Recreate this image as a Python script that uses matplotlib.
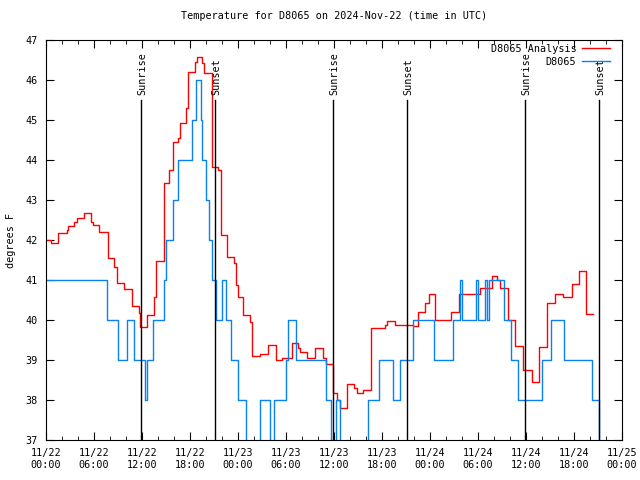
import matplotlib
matplotlib.use("Agg")
import matplotlib.pyplot as plt
from matplotlib.ticker import MultipleLocator

plt.rcParams['font.family'] = ['DejaVu Sans Mono']
plt.rcParams['font.size'] = 7.3

# hours since 2024-11-22 00:00 UTC
analysis_h = [0.0, 0.6, 1.5, 2.6, 2.75, 3.5, 3.9, 4.75, 5.6, 5.9, 6.6, 7.75, 8.5, 8.9,
              9.75, 10.75, 11.6, 11.75, 12.6, 13.5, 13.75, 14.75, 15.4, 15.9, 16.5,
              16.75, 17.5, 17.75, 18.6, 18.9, 19.5, 19.75, 20.75, 21.5, 21.9, 22.6,
              23.5, 23.75, 24.0, 24.6, 25.5, 25.75, 26.75, 27.75, 28.75, 29.5, 30.75,
              31.5, 31.75, 32.6, 33.6, 34.6, 35.0, 35.9, 36.4, 36.75, 37.6, 38.5, 38.9,
              39.6, 40.6, 42.4, 42.6, 43.6, 45.9, 46.5, 47.4, 47.9, 48.6, 50.6, 51.6,
              54.25, 55.75, 56.4, 56.75, 57.75, 58.6, 59.6, 60.75, 61.6, 62.6, 63.6,
              64.6, 65.75, 66.6, 67.5, 68.4]
analysis_t = [42.0, 41.92, 42.17, 42.25, 42.35, 42.46, 42.56, 42.67, 42.46, 42.38, 42.19,
              41.54, 41.33, 40.92, 40.77, 40.35, 40.17, 39.83, 40.12, 40.58, 41.47, 43.42,
              43.75, 44.44, 44.54, 44.92, 45.29, 46.21, 46.46, 46.57, 46.42, 46.17, 43.83,
              43.75, 42.12, 41.58, 41.42, 40.88, 40.58, 40.12, 39.95, 39.1, 39.15, 39.38,
              39.0, 39.05, 39.43, 39.3, 39.2, 39.05, 39.29, 39.05, 38.9, 38.17, 38.0, 37.8,
              38.4, 38.3, 38.17, 38.25, 39.79, 39.88, 39.98, 39.88, 39.86, 40.2, 40.42,
              40.64, 40.0, 40.2, 40.64, 40.81, 41.1, 41.0, 40.8, 40.0, 39.35, 38.75, 38.46,
              39.33, 40.42, 40.64, 40.58, 40.9, 41.22, 40.15, 40.15]

obs_h = [0.0, 7.6, 9.0, 10.1, 11.0, 12.4, 12.6, 13.4, 14.75, 15.0, 15.9, 16.5, 18.25,
         18.75, 19.4, 19.5, 20.0, 20.4, 20.75, 21.25, 22.0, 22.5, 23.1, 24.0, 25.0, 26.75,
         28.0, 28.5, 30.0, 30.25, 31.25, 35.0, 35.6, 36.25, 36.75, 40.25, 41.6, 43.4,
         44.25, 45.9, 48.5, 50.9, 51.75, 52.0, 53.75, 54.0, 54.9, 55.1, 55.4, 57.25,
         58.1, 59.0, 62.0, 63.1, 64.75, 68.25, 69.1, 69.5]
obs_t = [41, 40, 39, 40, 39, 38, 39, 40, 41, 42, 43, 44, 45, 46, 45, 44, 43, 42, 41, 40,
         41, 40, 39, 38, 36.5, 38, 36.5, 38, 39, 40, 39, 38, 36.5, 38, 36.5, 38, 39, 38,
         39, 40, 39, 40, 41, 40, 41, 40, 41, 40, 41, 40, 39, 38, 39, 40, 39, 38, 36.5, 36.5]

sun_h = [11.87, 21.12, 35.9, 45.12, 59.9, 69.12]
sun_labels = ['Sunrise', 'Sunset', 'Sunrise', 'Sunset', 'Sunrise', 'Sunset']

tick_labels = ['11/22\n00:00', '11/22\n06:00', '11/22\n12:00', '11/22\n18:00',
               '11/23\n00:00', '11/23\n06:00', '11/23\n12:00', '11/23\n18:00',
               '11/24\n00:00', '11/24\n06:00', '11/24\n12:00', '11/24\n18:00',
               '11/25\n00:00']

fig = plt.figure(figsize=(6.4, 4.8), dpi=100)
ax = fig.add_axes([46 / 640, 40 / 480, 576 / 640, 400 / 480])

ax.step(analysis_h, analysis_t, where='post', color='#ff0000', lw=1, label='D8065 Analysis')
ax.step(obs_h, obs_t, where='post', color='#0a80f5', lw=1, label='D8065')

for h, lab in zip(sun_h, sun_labels):
    ax.axvline(h, ymin=0, ymax=0.85, color='black', lw=1)
    ax.text(h + 0.15, 45.62, lab, rotation=90, ha='center', va='bottom')

ax.set_xlim(0, 72)
ax.set_ylim(37, 47)
ax.set_xticks(range(0, 73, 6))
ax.set_xticklabels(tick_labels)
ax.xaxis.set_minor_locator(MultipleLocator(2))
ax.set_yticks(range(37, 48))
ax.tick_params(which='both', direction='in', top=True, right=True)
ax.tick_params(which='major', length=6, pad=6)
ax.tick_params(which='minor', length=3)

ax.set_ylabel('degrees F')
ax.yaxis.set_label_coords(-0.052, 0.5)
ax.set_title('Temperature for D8065 on 2024-Nov-22 (time in UTC)', fontsize=7.3, pad=15)

ax.legend(loc='upper right', bbox_to_anchor=(0.979, 0.99), frameon=False, markerfirst=False,
          handlelength=2.8, borderaxespad=0, borderpad=0, labelspacing=0.3, handletextpad=0.5)

fig.savefig('out.png', dpi=100)
